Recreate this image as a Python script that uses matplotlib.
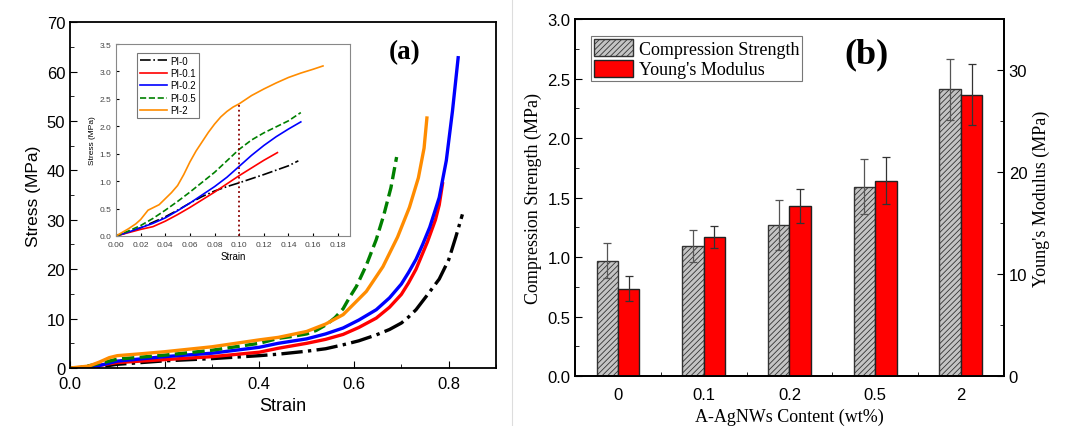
import matplotlib
matplotlib.use('Agg')
import matplotlib.pyplot as plt
import numpy as np
from matplotlib.ticker import MultipleLocator, FixedLocator

SANS = 'Liberation Sans'
SERIF = 'Liberation Serif'
plt.rcParams['hatch.linewidth'] = 0.6

# ---- panel (a): stress-strain curves (main) ----
labels = ['PI-0', 'PI-0.1', 'PI-0.2', 'PI-0.5', 'PI-2']
colors = ['black', 'red', 'blue', 'green', 'darkorange']
styles = ['-.', '-', '-', '--', '-']

strain_pi0 = [0, 0.048, 0.1, 0.2, 0.3, 0.4, 0.44, 0.5, 0.54, 0.577, 0.61, 0.647,
              0.675, 0.7, 0.715, 0.731, 0.755, 0.78, 0.8, 0.815, 0.829]
stress_pi0 = [0, 0.05, 0.75, 1.45, 1.9, 2.5, 2.8, 3.4, 3.9, 4.7, 5.5, 6.7,
              7.8, 9.1, 10.3, 11.8, 14.8, 18.0, 21.9, 26.5, 31.1]
strain_pi01 = [0, 0.04, 0.1, 0.2, 0.3, 0.4, 0.44, 0.5, 0.54, 0.577, 0.61, 0.647,
               0.675, 0.7, 0.715, 0.731, 0.755, 0.772, 0.78, 0.787]
stress_pi01 = [0, 0.2, 1.1, 1.7, 2.3, 3.2, 4.0, 5.0, 5.8, 6.8, 8.2, 10.1,
               12.3, 14.9, 17.2, 20.0, 25.5, 30.0, 33.0, 37.3]
strain_pi02 = [0, 0.03, 0.062, 0.1, 0.2, 0.3, 0.4, 0.44, 0.5, 0.54, 0.577, 0.61,
               0.647, 0.675, 0.7, 0.715, 0.731, 0.745, 0.76, 0.78, 0.795, 0.808, 0.82]
stress_pi02 = [0, 0.1, 0.5, 1.4, 2.3, 3.0, 4.2, 5.0, 5.9, 6.9, 8.1, 9.7,
               11.8, 14.2, 17.0, 19.3, 22.0, 25.0, 28.5, 34.5, 42.0, 52.0, 62.8]
strain_pi05 = [0, 0.02, 0.062, 0.1, 0.2, 0.3, 0.4, 0.44, 0.47, 0.5, 0.52, 0.542,
               0.56, 0.577, 0.59, 0.605, 0.626, 0.647, 0.663, 0.678, 0.69]
stress_pi05 = [0, 0.05, 0.9, 1.8, 2.6, 3.6, 5.0, 6.0, 6.4, 6.9, 7.6, 8.8,
               10.2, 12.0, 14.2, 16.5, 20.8, 26.0, 31.0, 36.5, 42.7]
strain_pi2 = [0, 0.04, 0.062, 0.083, 0.1, 0.152, 0.2, 0.3, 0.4, 0.44, 0.5, 0.54,
              0.577, 0.6, 0.626, 0.661, 0.692, 0.717, 0.736, 0.748, 0.754]
stress_pi2 = [0, 0.4, 1.2, 2.1, 2.5, 2.9, 3.3, 4.3, 5.7, 6.2, 7.4, 8.9,
              10.8, 13.0, 15.5, 20.5, 26.5, 32.5, 38.5, 44.5, 50.6]
main_x = [strain_pi0, strain_pi01, strain_pi02, strain_pi05, strain_pi2]
main_y = [stress_pi0, stress_pi01, stress_pi02, stress_pi05, stress_pi2]

# ---- panel (a): inset (initial region) ----
in_strain_pi0 = [0, 0.01, 0.02, 0.03, 0.04, 0.05, 0.06, 0.07, 0.08, 0.09, 0.1,
                 0.12, 0.14, 0.148]
in_stress_pi0 = [0, 0.07, 0.15, 0.25, 0.35, 0.47, 0.6, 0.72, 0.82, 0.9, 0.97,
                 1.12, 1.28, 1.37]
in_strain_pi01 = [0, 0.01, 0.02, 0.03, 0.04, 0.05, 0.06, 0.07, 0.08, 0.09, 0.1,
                  0.11, 0.12, 0.131]
in_stress_pi01 = [0, 0.06, 0.12, 0.17, 0.27, 0.39, 0.52, 0.66, 0.8, 0.95, 1.1,
                  1.24, 1.38, 1.52]
in_strain_pi02 = [0, 0.01, 0.02, 0.03, 0.04, 0.05, 0.06, 0.07, 0.08, 0.09, 0.1,
                  0.11, 0.12, 0.13, 0.14, 0.15]
in_stress_pi02 = [0, 0.07, 0.15, 0.23, 0.33, 0.46, 0.6, 0.75, 0.9, 1.07, 1.27,
                  1.47, 1.65, 1.81, 1.95, 2.08]
in_strain_pi05 = [0, 0.01, 0.02, 0.03, 0.04, 0.05, 0.06, 0.07, 0.08, 0.09, 0.1,
                  0.11, 0.12, 0.13, 0.14, 0.15]
in_stress_pi05 = [0, 0.09, 0.19, 0.32, 0.47, 0.63, 0.8, 0.98, 1.16, 1.37, 1.58,
                  1.75, 1.88, 1.99, 2.1, 2.25]
in_strain_pi2 = [0, 0.01, 0.016, 0.02, 0.026, 0.035, 0.04, 0.045, 0.05, 0.055,
                 0.06, 0.065, 0.07, 0.075, 0.08, 0.085, 0.09, 0.095, 0.1, 0.11,
                 0.12, 0.13, 0.14, 0.15, 0.16, 0.168]
in_stress_pi2 = [0, 0.13, 0.22, 0.3, 0.47, 0.57, 0.68, 0.79, 0.92, 1.12,
                 1.35, 1.55, 1.72, 1.89, 2.04, 2.17, 2.27, 2.35, 2.41, 2.56,
                 2.68, 2.79, 2.89, 2.97, 3.04, 3.1]
inset_x = [in_strain_pi0, in_strain_pi01, in_strain_pi02, in_strain_pi05, in_strain_pi2]
inset_y = [in_stress_pi0, in_stress_pi01, in_stress_pi02, in_stress_pi05, in_stress_pi2]
marker_strain = 0.1
marker_stress = 2.41

# ---- panel (b): bars ----
contents = ['0', '0.1', '0.2', '0.5', '2']
comp_strength = [0.97, 1.09, 1.27, 1.59, 2.41]
comp_err = [0.15, 0.135, 0.21, 0.23, 0.255]
youngs = [8.57, 13.64, 16.68, 19.14, 27.6]
youngs_err = [1.25, 1.1, 1.7, 2.3, 2.95]

fig = plt.figure(figsize=(10.69, 4.27), dpi=100)

# main axes (a)
ax = fig.add_axes([0.0655, 0.1358, 0.3985, 0.810])
for x, y, c, s in zip(main_x, main_y, colors, styles):
    ax.plot(x, y, color=c, linestyle=s, linewidth=2.4, solid_joinstyle='round')
ax.set_xlim(0, 0.9)
ax.set_ylim(0, 70)
ax.xaxis.set_major_locator(FixedLocator([0, 0.2, 0.4, 0.6, 0.8]))
ax.xaxis.set_minor_locator(MultipleLocator(0.1))
ax.yaxis.set_major_locator(MultipleLocator(10))
ax.yaxis.set_minor_locator(MultipleLocator(5))
ax.tick_params(which='both', direction='in', labelsize=12)
ax.tick_params(which='major', length=5)
ax.tick_params(which='minor', length=3)
ax.tick_params(axis='x', pad=6)
for lab in ax.get_xticklabels() + ax.get_yticklabels():
    lab.set_family(SANS)
ax.set_xlabel('Strain', fontsize=13, family=SANS)
ax.set_ylabel('Stress (MPa)', fontsize=12.5, family=SANS)
ax.text(0.785, 0.916, '(a)', transform=ax.transAxes, fontsize=19.5, fontweight='bold',
        family=SERIF, ha='center', va='center')
for sp in ax.spines.values():
    sp.set_linewidth(1.3)

# inset
axi = fig.add_axes([0.1085, 0.445, 0.219, 0.4496])
for x, y, c, s, l in zip(inset_x, inset_y, colors, styles, labels):
    axi.plot(x, y, color=c, linestyle=s, linewidth=1.2, label=l)
axi.plot([marker_strain, marker_strain], [0, marker_stress], color='darkred',
         linestyle=':', linewidth=1.3)
axi.set_xlim(0, 0.19)
axi.set_ylim(0, 3.5)
axi.xaxis.set_major_locator(MultipleLocator(0.02))
axi.yaxis.set_major_locator(MultipleLocator(0.5))
axi.xaxis.set_major_formatter(plt.FormatStrFormatter('%.2f'))
axi.yaxis.set_major_formatter(plt.FormatStrFormatter('%.1f'))
axi.tick_params(direction='in', labelsize=6, length=2)
for lab in axi.get_xticklabels() + axi.get_yticklabels():
    lab.set_family(SANS)
    lab.set_color('#444444')
axi.set_xlabel('Strain', fontsize=7, family=SANS, labelpad=2)
axi.set_ylabel('Stress (MPa)', fontsize=6, family=SANS, labelpad=2)
for sp in axi.spines.values():
    sp.set_color('#888888')
leg = axi.legend(loc='upper left', bbox_to_anchor=(0.07, 0.98),
                 prop={'family': SANS, 'size': 7}, frameon=True, fancybox=False,
                 handlelength=2.8, handletextpad=0.3, borderpad=0.3, labelspacing=0.25)
leg.get_frame().set_edgecolor('#555555')
leg.get_frame().set_linewidth(0.8)

# faint divider between panels
fig.add_artist(plt.Line2D([0.479, 0.479], [0.0, 1.0], color='#dddddd', linewidth=0.8))

# panel (b)
axb = fig.add_axes([0.538, 0.117, 0.401, 0.836])
pos = np.arange(len(contents))
w = 0.25
axb.bar(pos - w / 2, comp_strength, width=w, color='#c4c4c4', edgecolor='#333333',
        hatch='//////', linewidth=1.0, label='Compression Strength')
axb.errorbar(pos - w / 2, comp_strength, yerr=comp_err, fmt='none', ecolor='#555555',
             elinewidth=0.9, capsize=3, capthick=0.9)
axb.set_xlim(-0.5, 4.5)
axb.set_ylim(0, 3.0)
axb.set_xticks(pos)
axb.set_xticklabels(contents)
axb.xaxis.set_minor_locator(FixedLocator(pos[:-1] + 0.5))
axb.yaxis.set_major_locator(MultipleLocator(0.5))
axb.yaxis.set_minor_locator(MultipleLocator(0.25))
axb.tick_params(which='both', direction='in', labelsize=12)
axb.tick_params(which='major', length=5)
axb.tick_params(axis='x', which='major', length=0, pad=8)
axb.tick_params(which='minor', length=3)
for lab in axb.get_xticklabels() + axb.get_yticklabels():
    lab.set_family(SANS)
axb.set_xlabel('A-AgNWs Content (wt%)', fontsize=13, family=SERIF)
axb.set_ylabel('Compression Strength (MPa)', fontsize=13, family=SERIF)

axr = axb.twinx()
axr.bar(pos + w / 2, youngs, width=w, color='red', edgecolor='#222222',
        linewidth=1.0, label="Young's Modulus")
axr.errorbar(pos + w / 2, youngs, yerr=youngs_err, fmt='none', ecolor='#333333',
             elinewidth=0.9, capsize=3, capthick=0.9)
axr.set_ylim(0, 35)
axr.yaxis.set_major_locator(FixedLocator([0, 10, 20, 30]))
axr.yaxis.set_minor_locator(FixedLocator([5, 15, 25]))
axr.tick_params(which='both', direction='in', labelsize=12)
axr.tick_params(which='major', length=5)
axr.tick_params(which='minor', length=3)
for lab in axr.get_yticklabels():
    lab.set_family(SANS)
axr.set_ylabel("Young's Modulus (MPa)", fontsize=13, family=SERIF)
for a in (axb, axr):
    for sp in a.spines.values():
        sp.set_linewidth(1.3)

h1, l1 = axb.get_legend_handles_labels()
h2, l2 = axr.get_legend_handles_labels()
legb = axr.legend(h1 + h2, l1 + l2, loc='upper left', bbox_to_anchor=(0.037, 0.952),
                  prop={'family': SERIF, 'size': 13}, frameon=True, fancybox=False,
                  handlelength=2.2, handleheight=1.1, handletextpad=0.3,
                  borderpad=0.15, labelspacing=0.1, borderaxespad=0)
legb.get_frame().set_edgecolor('#555555')
legb.get_frame().set_linewidth(0.8)
axr.text(0.68, 0.902, '(b)', transform=axr.transAxes, fontsize=26, fontweight='bold',
         family=SERIF, ha='center', va='center')

fig.savefig('out.png', dpi=100)
